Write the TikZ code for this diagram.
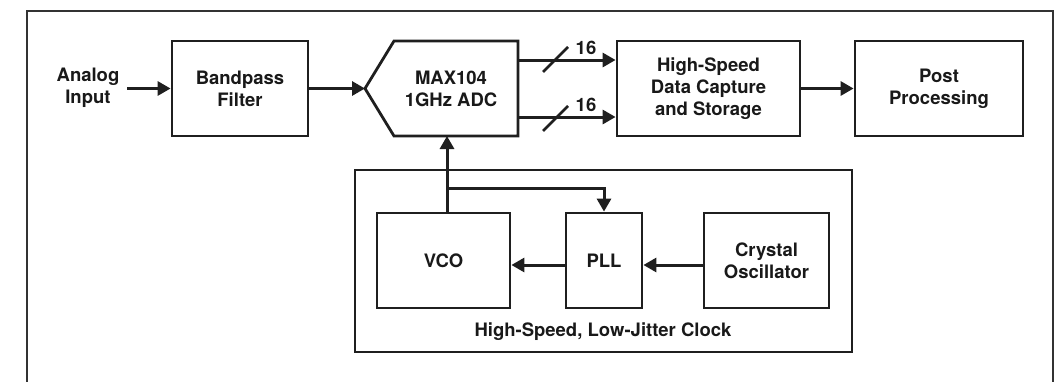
\documentclass[tikz,border=0pt]{standalone}
\usepackage{fontspec}
\setmainfont{TeX Gyre Heros}
\usetikzlibrary{arrows.meta}
\begin{document}
\begin{tikzpicture}[x=1pt,y=-1pt,line join=miter,
  ink/.style={draw=black!88},
  txt/.style={font=\fontsize{18.5}{22}\selectfont\bfseries,align=center,inner sep=0pt,text=black!90},
  blk/.style={ink,line width=2.8pt,inner sep=0pt,align=center,
    font=\fontsize{18.5}{22}\selectfont\bfseries,text=black!90},
  arr/.style={ink,line width=3pt,-{Triangle[length=13pt,width=14pt]}},
  bus/.style={ink,line width=2.6pt}]
\useasboundingbox (0,0) rectangle (1054,381);
\clip (0,0) rectangle (1054,381);
% outer frame
\draw[draw=black!80,line width=2.4pt] (27,400) -- (27,11) -- (1053,11) -- (1053,400);
% top row
\node[txt] (ain) at (88,88) {Analog\\Input};
\coordinate (ainr) at (127,88.5);
\node[blk,minimum width=136pt,minimum height=95pt] (bp) at (240,88.5) {Bandpass\\Filter};
% ADC pentagon
\coordinate (adcnw) at (394,41);
\coordinate (adcne) at (518,41);
\coordinate (adcse) at (518,136);
\coordinate (adcsw) at (394,136);
\coordinate (adctip) at (365,88.5);
\draw[ink,line width=2.8pt] (adcnw) -- (adcne) -- (adcse) -- (adcsw) -- (adctip) -- cycle;
\node[txt] (adc) at (451,88.5) {MAX104\\1GHz ADC};
\node[blk,minimum width=183pt,minimum height=95pt] (dcs) at (708.5,88.5) {High-Speed\\Data Capture\\and Storage};
\node[blk,minimum width=168pt,minimum height=95pt] (pp) at (939,88.5) {Post\\Processing};
% clock block
\node[blk,minimum width=497pt,minimum height=182pt] (clk) at (603.5,261) {};
\node[blk,minimum width=133pt,minimum height=95pt] (vco) at (443.5,260.5) {VCO};
\node[blk,minimum width=76pt,minimum height=95pt] (pll) at (604,260.5) {PLL};
\node[blk,minimum width=125pt,minimum height=95pt] (xo) at (766.5,260.5) {Crystal\\Oscillator};
\node[txt] (clklbl) at (603,332) {High-Speed, Low-Jitter Clock};
% connectors top row
\draw[arr] (ainr) -- (bp.west);
\draw[arr] (bp.east) -- (adctip);
\coordinate (b1a) at (518,60);
\coordinate (b2a) at (518,117);
\draw[arr] (b1a) -- (dcs.west |- b1a);
\draw[arr] (b2a) -- (dcs.west |- b2a);
\coordinate (s1a) at (543,72); \coordinate (s1b) at (568,47);
\coordinate (s2a) at (543,131); \coordinate (s2b) at (568,106);
\draw[bus] (s1a) -- (s1b);
\draw[bus] (s2a) -- (s2b);
\node[txt] (n1) at (586,48) {16};
\node[txt] (n2) at (586,105) {16};
\draw[arr] (dcs.east) -- (pp.west);
% clock connectors
\coordinate (tap) at (447,188);
\draw[arr] (vco.north -| tap) -- (adcsw -| tap);
\draw[arr] (tap) -| (pll.north);
\coordinate (row) at (0,265);
\draw[arr] (pll.west |- row) -- (vco.east |- row);
\draw[arr] (xo.west |- row) -- (pll.east |- row);
\end{tikzpicture}
\end{document}
